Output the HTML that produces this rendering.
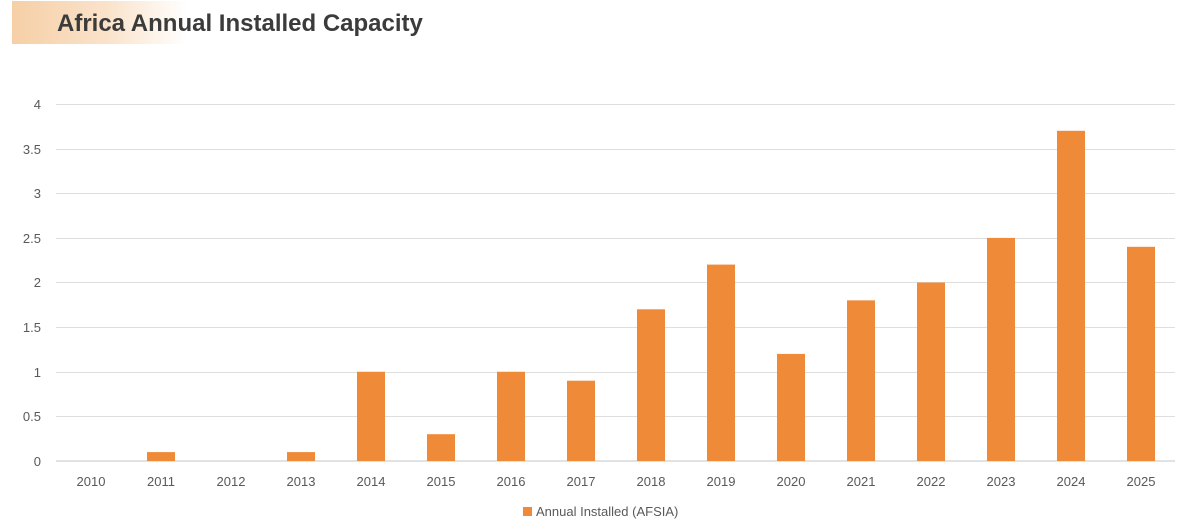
<!DOCTYPE html>
<html><head><meta charset="utf-8"><style>
html,body{margin:0;padding:0;background:#fff;width:1200px;height:532px;overflow:hidden}
svg{display:block}
text{font-family:"Liberation Sans",sans-serif}
</style></head><body>
<svg width="1200" height="532" xmlns="http://www.w3.org/2000/svg">
<defs><linearGradient id="g" x1="0" x2="1"><stop offset="0" stop-color="#f6cfa6"/><stop offset="0.55" stop-color="#fae3cb"/><stop offset="1" stop-color="#ffffff"/></linearGradient></defs>
<rect x="12" y="1" width="175" height="43" fill="url(#g)"/>
<text x="57" y="31" font-size="24" font-weight="bold" fill="#3b3b3b">Africa Annual Installed Capacity</text>
<g stroke="#dedede" stroke-width="1">
<line x1="56" x2="1175" y1="104.5" y2="104.5"/>
<line x1="56" x2="1175" y1="149.5" y2="149.5"/>
<line x1="56" x2="1175" y1="193.5" y2="193.5"/>
<line x1="56" x2="1175" y1="238.5" y2="238.5"/>
<line x1="56" x2="1175" y1="282.5" y2="282.5"/>
<line x1="56" x2="1175" y1="327.5" y2="327.5"/>
<line x1="56" x2="1175" y1="372.5" y2="372.5"/>
<line x1="56" x2="1175" y1="416.5" y2="416.5"/>
</g>
<line x1="56" x2="1175" y1="461" y2="461" stroke="#d9d9d9" stroke-width="1.5"/>
<g font-size="13" fill="#595959" text-anchor="end">
<text x="41" y="109">4</text><text x="41" y="154">3.5</text><text x="41" y="198">3</text><text x="41" y="243">2.5</text><text x="41" y="287">2</text><text x="41" y="332">1.5</text><text x="41" y="377">1</text><text x="41" y="421">0.5</text><text x="41" y="466">0</text>
</g>
<g fill="#ef8a38">
<rect x="147" y="452.1" width="28" height="8.9"/>
<rect x="287" y="452.1" width="28" height="8.9"/>
<rect x="357" y="371.75" width="28" height="89.25"/>
<rect x="427" y="434.2" width="28" height="26.8"/>
<rect x="497" y="371.75" width="28" height="89.25"/>
<rect x="567" y="380.7" width="28" height="80.3"/>
<rect x="637" y="309.3" width="28" height="151.7"/>
<rect x="707" y="264.6" width="28" height="196.4"/>
<rect x="777" y="353.9" width="28" height="107.1"/>
<rect x="847" y="300.35" width="28" height="160.65"/>
<rect x="917" y="282.5" width="28" height="178.5"/>
<rect x="987" y="237.9" width="28" height="223.1"/>
<rect x="1057" y="130.8" width="28" height="330.2"/>
<rect x="1127" y="246.8" width="28" height="214.2"/>
</g>
<g font-size="13" fill="#595959" text-anchor="middle">
<text x="91" y="486">2010</text><text x="161" y="486">2011</text><text x="231" y="486">2012</text><text x="301" y="486">2013</text><text x="371" y="486">2014</text><text x="441" y="486">2015</text><text x="511" y="486">2016</text><text x="581" y="486">2017</text><text x="651" y="486">2018</text><text x="721" y="486">2019</text><text x="791" y="486">2020</text><text x="861" y="486">2021</text><text x="931" y="486">2022</text><text x="1001" y="486">2023</text><text x="1071" y="486">2024</text><text x="1141" y="486">2025</text>
</g>
<rect x="523" y="507" width="9" height="9" fill="#ef8a38"/>
<text x="536" y="516" font-size="13" fill="#595959">Annual Installed (AFSIA)</text>
</svg>
</body></html>
